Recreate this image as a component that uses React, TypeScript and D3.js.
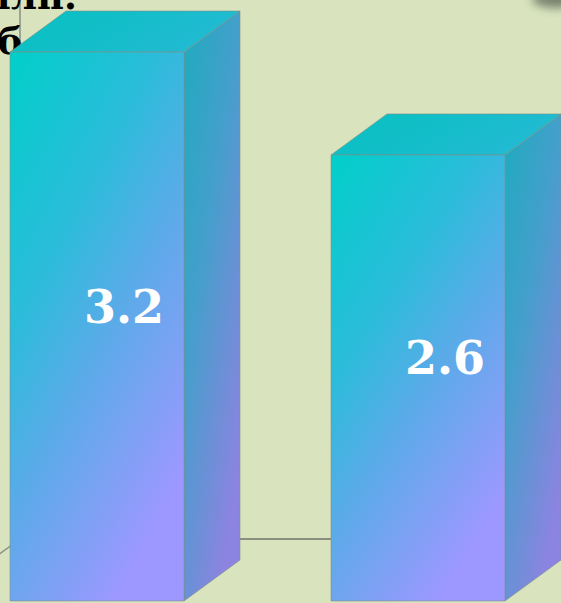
import React from "react";
import * as d3 from "d3";

const categories = ["A", "B"];
const values = [3.2, 2.6];
const valueLabels = ["3.2", "2.6"];
const unitLines = ["млн.", "руб."];

const W = 561;
const H = 603;
const DX = 56;
const DY = 41;

export default function App() {
  const x = d3
    .scaleBand<string>()
    .domain(categories)
    .range([10, 505])
    .paddingInner(0.458)
    .paddingOuter(0);
  const y = d3.scaleLinear().domain([0, 3.2]).range([601, 52]);
  const bw = x.bandwidth();
  const wallX = 20;
  const floorY = 539;

  return (
    <svg
      width={W}
      height={H}
      style={{ position: "fixed", left: 0, top: 0, display: "block" }}
    >
      <defs>
        <linearGradient id="front" x1="0" y1="0" x2="0.6" y2="1">
          <stop offset="0" stopColor="#00CFC9" />
          <stop offset="0.38" stopColor="#2CBCDB" />
          <stop offset="0.62" stopColor="#5AABE8" />
          <stop offset="1" stopColor="#9C98FF" />
        </linearGradient>
        <linearGradient id="side" x1="0" y1="0" x2="0.6" y2="1">
          <stop offset="0" stopColor="#1EABBE" />
          <stop offset="0.45" stopColor="#449FCB" />
          <stop offset="1" stopColor="#8B84E0" />
        </linearGradient>
        <linearGradient id="top" x1="0" y1="0" x2="1" y2="0.3">
          <stop offset="0" stopColor="#04C2C0" />
          <stop offset="1" stopColor="#22BAD2" />
        </linearGradient>
        <filter id="blur" x="-50%" y="-50%" width="200%" height="200%">
          <feGaussianBlur stdDeviation="5" />
        </filter>
      </defs>
      <rect x={0} y={0} width={W} height={H} fill="#D9E4BF" />
      <ellipse cx={556} cy={-1} rx={24} ry={9} fill="#3a3f38" opacity={0.6} filter="url(#blur)" />
      {/* walls */}
      <line x1={wallX} y1={0} x2={wallX} y2={floorY} stroke="#8A8F86" strokeWidth={1.5} />
      <line x1={wallX} y1={floorY} x2={W} y2={floorY} stroke="#8A8F80" strokeWidth={2} />
      <line
        x1={wallX}
        y1={floorY}
        x2={wallX - 40}
        y2={floorY + (40 * DY) / DX}
        stroke="#8A8F80"
        strokeWidth={1.5}
      />
      {/* unit text */}
      <g fontFamily="DejaVu Serif" fontWeight="bold" fontSize={37} fill="#000">
        <text x={77} y={9} textAnchor="end">{unitLines[0]}</text>
        <text x={35} y={54} textAnchor="end">{unitLines[1]}</text>
      </g>
      {categories.map((c, i) => {
        const x0 = x(c)!;
        const x1 = x0 + bw;
        const yt = y(values[i]);
        const yb = y(0);
        const frontPts = `${x0},${yt} ${x1},${yt} ${x1},${yb} ${x0},${yb}`;
        const sidePts = `${x1},${yt} ${x1 + DX},${yt - DY} ${x1 + DX},${yb - DY} ${x1},${yb}`;
        const topPts = `${x0},${yt} ${x0 + DX},${yt - DY} ${x1 + DX},${yt - DY} ${x1},${yt}`;
        return (
          <g key={c}>
            <polygon points={sidePts} fill="url(#side)" stroke="#7f8f85" strokeOpacity={0.6} strokeWidth={1} />
            <polygon points={topPts} fill="url(#top)" stroke="#7f8f85" strokeOpacity={0.6} strokeWidth={1} />
            <polygon points={frontPts} fill="url(#front)" stroke="#7f8f85" strokeOpacity={0.6} strokeWidth={1} />
            <text
              x={(x0 + x1 + DX) / 2 - 1}
              y={(yt - DY + yb) / 2 + 17}
              textAnchor="middle"
              fontFamily="DejaVu Serif"
              fontWeight="bold"
              fontSize={46}
              fill="#FFFFFF"
            >
              {valueLabels[i]}
            </text>
          </g>
        );
      })}
    </svg>
  );
}
